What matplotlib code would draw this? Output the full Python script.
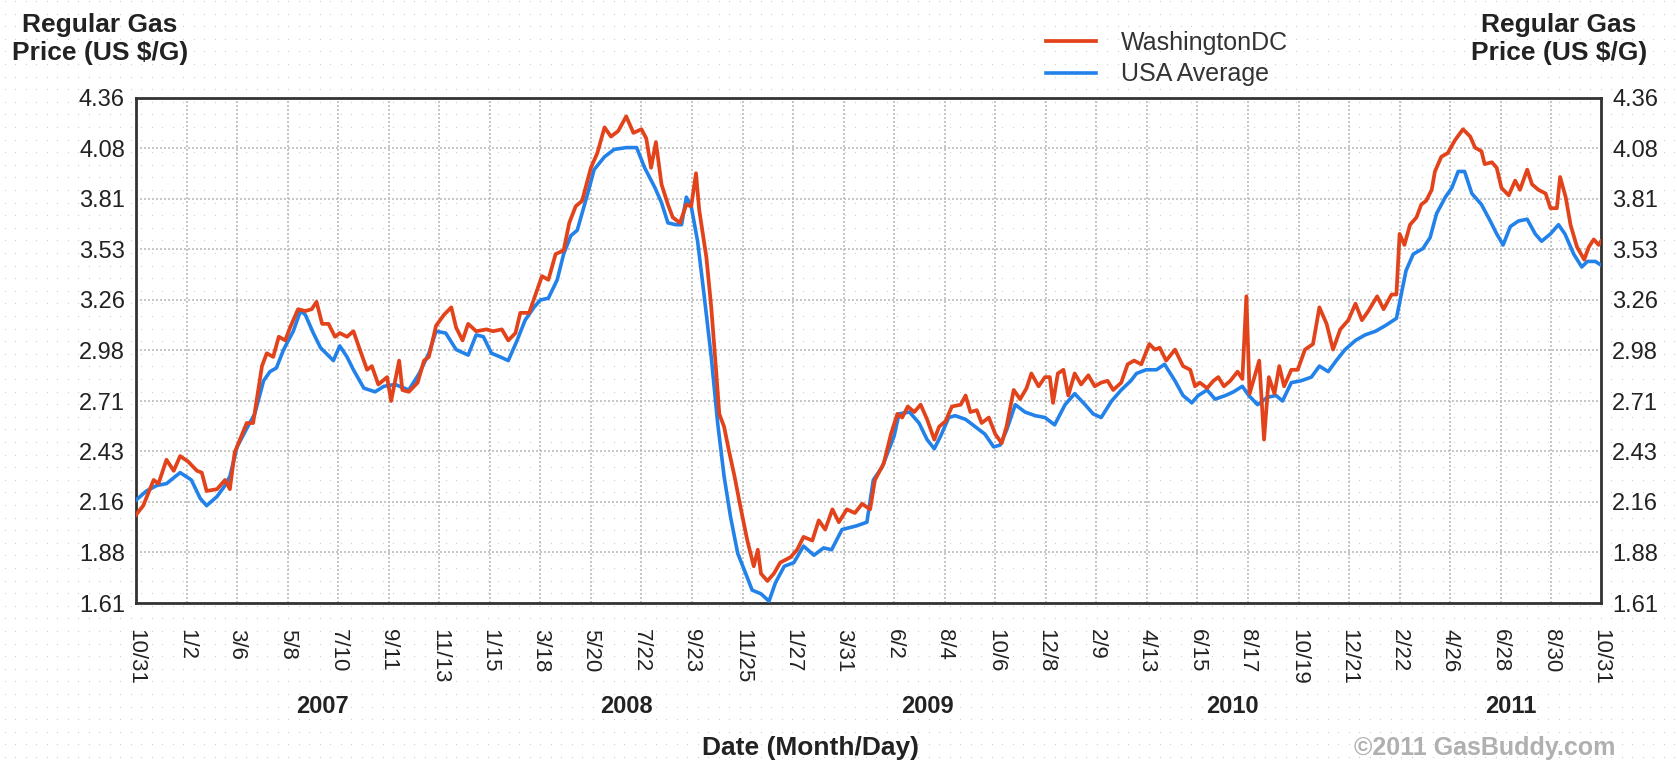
import numpy as np
import pandas as pd
import matplotlib
matplotlib.use("Agg")
import matplotlib.pyplot as plt

plt.rcParams['font.family'] = ['Liberation Sans', 'DejaVu Sans']

# --- data (days since 2006-10-31, price in US $/gallon) ---
start = pd.Timestamp('2006-10-31')
end = pd.Timestamp('2011-10-31')

dc_days = [0, 9, 22, 28, 38, 47, 55, 65, 76, 82, 88, 101, 111, 117, 123, 138, 146, 157, 163, 171,
           178, 186, 192, 202, 211, 219, 225, 232, 240, 248, 254, 263, 271, 279, 288, 294, 302, 313,
           318, 328, 332, 340, 351, 359, 365, 374, 384, 393, 399, 407, 414, 424, 437, 445, 456, 464,
           473, 479, 490, 498, 506, 514, 523, 533, 540, 548, 556, 567, 575, 584, 592, 601, 611,
           620, 630, 636, 642, 648, 655, 663, 669, 678, 686, 692, 698, 702, 711, 717, 723, 727, 733,
           739, 746, 754, 762, 770, 775, 779, 787, 795, 803, 816, 824, 832, 843, 851, 859, 868, 876,
           886, 896, 905, 915, 921, 932,
           941, 949, 955, 962, 970, 978, 986, 995, 1001, 1009, 1017, 1028, 1034, 1040, 1048, 1054,
           1063, 1071, 1079, 1085, 1094, 1102, 1110, 1116, 1125, 1133, 1139, 1143, 1149, 1156, 1162,
           1170, 1178, 1187, 1195, 1203, 1211, 1218, 1228, 1236,
           1244, 1253, 1263, 1270, 1276, 1284, 1295, 1305, 1314, 1320, 1326, 1335, 1343, 1349, 1356,
           1364, 1373, 1379, 1384, 1388, 1394, 1400, 1406, 1412, 1419, 1425, 1431, 1440, 1448, 1457,
           1467, 1475, 1484, 1492, 1501, 1511, 1520, 1528, 1536, 1547, 1555,
           1565, 1571, 1575, 1581, 1588, 1596, 1602, 1608, 1615, 1619, 1627, 1635, 1644, 1654, 1663,
           1669, 1677, 1681, 1690, 1696, 1702, 1711, 1719, 1725, 1734, 1740, 1748, 1757, 1763, 1771,
           1775, 1782, 1788, 1796, 1805, 1811, 1817, 1823, 1826]
dc_price = [2.09, 2.14, 2.28, 2.26, 2.39, 2.33, 2.41, 2.38, 2.33, 2.32, 2.22, 2.23, 2.28, 2.23, 2.43,
            2.59, 2.59, 2.90, 2.97, 2.95, 3.06, 3.04, 3.11, 3.21, 3.20, 3.21, 3.25, 3.13, 3.13, 3.06,
            3.08, 3.06, 3.09, 2.99, 2.88, 2.90, 2.80, 2.84,
            2.71, 2.93, 2.77, 2.76, 2.81, 2.93, 2.95, 3.12, 3.18, 3.22, 3.11, 3.04, 3.13, 3.09, 3.10,
            3.09, 3.10, 3.04, 3.08, 3.19, 3.19, 3.29, 3.39, 3.37, 3.51, 3.53, 3.68, 3.77, 3.80, 3.98,
            4.06, 4.20, 4.15, 4.18, 4.26,
            4.17, 4.19, 4.14, 3.98, 4.12, 3.89, 3.78, 3.71, 3.68, 3.78, 3.77, 3.95, 3.75, 3.49, 3.22,
            2.88, 2.64, 2.57, 2.44, 2.30, 2.12, 1.95, 1.81, 1.90, 1.77, 1.73, 1.77, 1.83, 1.86, 1.90,
            1.97, 1.95, 2.06, 2.01, 2.12, 2.05, 2.12, 2.10, 2.15, 2.12, 2.28, 2.37,
            2.53, 2.64, 2.62, 2.68, 2.65, 2.69, 2.61, 2.50, 2.57, 2.60, 2.68, 2.69, 2.74, 2.65, 2.66,
            2.59, 2.62, 2.53, 2.48, 2.57, 2.77, 2.72, 2.78, 2.86, 2.79, 2.84, 2.84, 2.70, 2.86, 2.88,
            2.74, 2.86, 2.80, 2.85, 2.79, 2.81, 2.82, 2.77, 2.81, 2.91,
            2.93, 2.91, 3.02, 2.99, 3.00, 2.93, 2.99, 2.90, 2.88, 2.79, 2.81, 2.78, 2.82, 2.84, 2.79,
            2.82, 2.87, 2.83, 3.28, 2.75, 2.84, 2.93, 2.50, 2.84, 2.75, 2.90, 2.79, 2.88, 2.88, 2.99,
            3.02, 3.22, 3.13, 2.99, 3.10, 3.15, 3.24, 3.15, 3.20, 3.28, 3.21,
            3.29, 3.29, 3.62, 3.56, 3.67, 3.71, 3.78, 3.80, 3.86, 3.96, 4.04, 4.06, 4.13, 4.19, 4.15,
            4.09, 4.07, 4.00, 4.01, 3.98, 3.87, 3.83, 3.91, 3.86, 3.97, 3.89, 3.86, 3.84, 3.76, 3.76,
            3.93, 3.82, 3.67, 3.55, 3.48, 3.55, 3.59, 3.56, 3.58]

usa_days = [0, 13, 26, 38, 55, 69, 80, 88, 101, 111, 117, 126, 138, 148, 159, 167, 175, 184, 196,
            205, 211, 221, 230, 246, 254, 263, 271, 284, 298, 309,
            323, 340, 353, 365, 374, 386, 399, 414, 424, 433, 443, 454, 464, 475, 485, 496, 504, 514,
            525, 533, 542, 550, 563, 571, 584, 596, 611,
            624, 634, 647, 655, 663, 673, 680, 686, 692, 700, 708, 717, 725, 733, 741, 750, 760, 768,
            779, 789, 797, 808, 820, 832, 845, 857, 867, 880, 898, 911, 919, 930,
            945, 951, 964, 976, 986, 995, 1003, 1013, 1021, 1034, 1046, 1058, 1069, 1077, 1085, 1096,
            1108, 1121, 1133, 1145, 1158, 1170, 1183, 1193, 1203, 1216, 1228, 1240,
            1247, 1259, 1272, 1282, 1295, 1305, 1316, 1324, 1335, 1345, 1358, 1368, 1379, 1387, 1398,
            1410, 1421, 1429, 1440, 1452, 1465, 1475, 1486, 1496, 1507, 1520, 1532, 1545, 1557,
            1571, 1577, 1583, 1592, 1604, 1613, 1621, 1632, 1640, 1648, 1656, 1665, 1677, 1688, 1696,
            1704, 1713, 1723, 1734, 1744, 1752, 1763, 1773, 1781, 1792, 1802, 1809, 1819, 1826]
usa_price = [2.17, 2.22, 2.25, 2.26, 2.32, 2.28, 2.18, 2.14, 2.19, 2.25, 2.30, 2.46, 2.56, 2.64,
             2.82, 2.87, 2.89, 2.99, 3.09, 3.20, 3.18, 3.08, 3.00, 2.93, 3.01, 2.95, 2.88, 2.78,
             2.76, 2.79,
             2.80, 2.77, 2.86, 2.97, 3.09, 3.08, 2.99, 2.96, 3.07, 3.06, 2.97, 2.95, 2.93, 3.04, 3.15,
             3.22, 3.26, 3.27, 3.37, 3.51, 3.61, 3.64, 3.84, 3.97, 4.04, 4.08, 4.09,
             4.09, 3.98, 3.87, 3.79, 3.68, 3.67, 3.67, 3.82, 3.77, 3.58, 3.29, 2.95, 2.59, 2.30, 2.08,
             1.88, 1.77, 1.68, 1.66, 1.62, 1.72, 1.81, 1.83, 1.92, 1.87, 1.91, 1.90, 2.01, 2.03, 2.05,
             2.28, 2.35,
             2.52, 2.64, 2.65, 2.59, 2.50, 2.45, 2.52, 2.62, 2.63, 2.61, 2.57, 2.53, 2.46, 2.47, 2.55,
             2.69, 2.65, 2.63, 2.62, 2.58, 2.69, 2.75, 2.69, 2.64, 2.62, 2.71, 2.77, 2.82,
             2.86, 2.88, 2.88, 2.91, 2.82, 2.74, 2.70, 2.74, 2.77, 2.72, 2.74, 2.76, 2.79, 2.74, 2.69,
             2.73, 2.74, 2.71, 2.81, 2.82, 2.84, 2.90, 2.87, 2.93, 2.99, 3.04, 3.07, 3.09, 3.12,
             3.16, 3.29, 3.42, 3.51, 3.54, 3.60, 3.73, 3.82, 3.87, 3.96, 3.96, 3.84, 3.78, 3.69, 3.62,
             3.56, 3.66, 3.69, 3.70, 3.62, 3.58, 3.62, 3.67, 3.62, 3.51, 3.44, 3.47, 3.47, 3.45]

tick_dates = ['2006-10-31', '2007-01-02', '2007-03-06', '2007-05-08', '2007-07-10', '2007-09-11',
              '2007-11-13', '2008-01-15', '2008-03-18', '2008-05-20', '2008-07-22', '2008-09-23',
              '2008-11-25', '2009-01-27', '2009-03-31', '2009-06-02', '2009-08-04', '2009-10-06',
              '2009-12-08', '2010-02-09', '2010-04-13', '2010-06-15', '2010-08-17', '2010-10-19',
              '2010-12-21', '2011-02-22', '2011-04-26', '2011-06-28', '2011-08-30', '2011-10-31']
y_labels = ['1.61', '1.88', '2.16', '2.43', '2.71', '2.98', '3.26', '3.53', '3.81', '4.08', '4.36']
years = ['2007', '2008', '2009', '2010', '2011']
year_pos = ['2007-06-20', '2008-07-03', '2009-07-14', '2010-07-28', '2011-07-10']

dc_dates = start + pd.to_timedelta(dc_days, unit='D')
usa_dates = start + pd.to_timedelta(usa_days, unit='D')
ticks = pd.to_datetime(tick_dates)

W, H = 1677, 761
fig = plt.figure(figsize=(W / 100, H / 100), dpi=100)
fig.patch.set_facecolor('white')

# dotted page background
bg = fig.add_axes([0, 0, 1, 1], zorder=-5)
bg.set_xlim(0, W)
bg.set_ylim(0, H)
bg.axis('off')
gx, gy = np.meshgrid(np.arange(5, W, 10.5), np.arange(4, H, 12.6))
bg.scatter(gx.ravel(), gy.ravel(), s=0.6, color='#c4c4c4', linewidths=0)

ax = fig.add_axes([136 / W, 1 - 603 / H, (1601 - 136) / W, (603 - 98) / H])
ax.set_facecolor('none')

ax.plot(usa_dates, usa_price, color='#2282ea', lw=2.6, label='USA Average', zorder=3)
ax.plot(dc_dates, dc_price, color='#e2431b', lw=2.7, label='WashingtonDC', zorder=4)

ax.set_xlim(start, end)
ax.set_ylim(1.61, 4.36)
ax.set_yticks(np.linspace(1.61, 4.36, len(y_labels)))
ax.set_yticklabels(y_labels)
ax.set_xticks(ticks)
ax.set_xticklabels([f'{d.month}/{d.day}' for d in ticks], rotation=-90)
ax.tick_params(axis='both', length=0, colors='#222222')
ax.tick_params(axis='y', labelsize=17, labelright=True, pad=8)
ax.tick_params(axis='x', labelsize=16, pad=19)
ax.grid(True, color='#bcbcbc', linestyle=(0, (1.2, 1.2)), lw=1.2)
for sp in ax.spines.values():
    sp.set_color('#333333')
    sp.set_linewidth(2)

trans = ax.get_xaxis_transform()
for yr, pos in zip(years, year_pos):
    ax.text(pd.Timestamp(pos), -0.204, yr, transform=trans, ha='center', va='center',
            fontsize=17, fontweight='bold', color='#222222')

fig.text(100 / W, 1 - 39 / H, 'Regular Gas\nPrice (US $/G)', ha='center', va='center',
         fontsize=19, fontweight='bold', color='#222222', linespacing=1.25)
fig.text(1559 / W, 1 - 39 / H, 'Regular Gas\nPrice (US $/G)', ha='center', va='center',
         fontsize=19, fontweight='bold', color='#222222', linespacing=1.25)
fig.text(811 / W, 1 - 748 / H, 'Date (Month/Day)', ha='center', va='center',
         fontsize=19, fontweight='bold', color='#222222')
fig.text(1485 / W, 1 - 748 / H, '\u00a92011 GasBuddy.com', ha='center', va='center',
         fontsize=18, fontweight='bold', color='#b0b0b0')

h, l = ax.get_legend_handles_labels()
ax.legend(h[::-1], l[::-1], loc='upper left', bbox_to_anchor=(1046 / W, 1 - 31 / H),
          bbox_transform=fig.transFigure, frameon=False, fontsize=18, handlelength=2.0,
          handletextpad=1.0, labelspacing=0.3, borderpad=0, borderaxespad=0,
          labelcolor='#333333')

fig.savefig('out.png', dpi=100)
